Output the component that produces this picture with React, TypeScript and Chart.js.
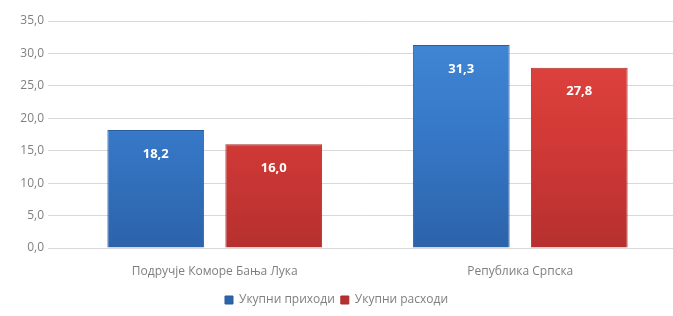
import React, { useEffect, useRef } from "react";
import { Chart, registerables } from "chart.js";

Chart.register(...registerables);

const categories = ["Подручје Коморе Бања Лука", "Република Српска"];
const seriesNames = ["Укупни приходи", "Укупни расходи"];
const incomeValues = [18.2, 31.3];
const expenseValues = [16.0, 27.8];
const yMin = 0;
const yMax = 35;
const yStep = 5;

const fmt = (v: number) => v.toFixed(1).replace(".", ",");

function makeGrad(chart: any, light: string, mid: string, dark: string, solid: string) {
  const area = chart.chartArea;
  if (!area) return solid;
  const g = chart.ctx.createLinearGradient(0, area.top, 0, area.bottom);
  g.addColorStop(0, light);
  g.addColorStop(0.5, mid);
  g.addColorStop(1, dark);
  return g;
}

const valueLabels = {
  id: "valueLabels",
  afterDatasetsDraw(chart: any) {
    const ctx = chart.ctx;
    ctx.save();
    ctx.fillStyle = "#ffffff";
    ctx.font = "bold 13px 'Open Sans', sans-serif";
    ctx.textAlign = "center";
    ctx.textBaseline = "middle";
    chart.data.datasets.forEach((ds: any, di: number) => {
      const meta = chart.getDatasetMeta(di);
      meta.data.forEach((bar: any, i: number) => {
        ctx.fillText(fmt(ds.data[i]), bar.x, bar.y + 24);
      });
    });
    ctx.restore();
  },
};

export default function App() {
  const ref = useRef<HTMLCanvasElement | null>(null);
  useEffect(() => {
    if (!ref.current) return;
    const chart = new Chart(ref.current, {
      type: "bar",
      data: {
        labels: categories,
        datasets: [
          {
            label: seriesNames[0],
            data: incomeValues,
            backgroundColor: (c: any) => makeGrad(c.chart, "#4189d8", "#3678c7", "#2c63aa", "#3678c7"),
            borderColor: "#2a5d9e",
            borderWidth: 1,
          },
          {
            label: seriesNames[1],
            data: expenseValues,
            backgroundColor: (c: any) => makeGrad(c.chart, "#e4453f", "#d23a37", "#b6302f", "#d23a37"),
            borderColor: "#a82c2b",
            borderWidth: 1,
          },
        ],
      },
      options: {
        animation: false,
        responsive: true,
        maintainAspectRatio: false,
        layout: { padding: { left: 0, right: 0, top: 21, bottom: 0 } },
        datasets: { bar: { categoryPercentage: 0.7725, barPercentage: 0.82 } },
        plugins: {
          legend: {
            position: "bottom",
            labels: {
              boxWidth: 8,
              boxHeight: 8,
              padding: 6,
              color: "#7f7f7f",
              font: { family: "'Open Sans', sans-serif", size: 12 },
            },
          },
          tooltip: { enabled: false },
        },
        scales: {
          x: {
            grid: { display: false, drawTicks: false },
            border: { display: false },
            ticks: {
              color: "#7f7f7f",
              padding: 16,
              font: { family: "'Open Sans', sans-serif", size: 12 },
            },
            afterFit: (s: any) => {
              s.height = 40;
            },
          },
          y: {
            min: yMin,
            max: yMax,
            grid: { color: "#d9d9d9", tickLength: 14, lineWidth: 1 },
            border: { display: false },
            ticks: {
              stepSize: yStep,
              padding: 4,
              color: "#7f7f7f",
              font: { family: "'Open Sans', sans-serif", size: 12 },
              callback: (v: any) => fmt(Number(v)),
            },
            afterFit: (s: any) => {
              s.width = 62;
            },
          },
        },
      },
      plugins: [valueLabels],
    } as any);
    return () => chart.destroy();
  }, []);
  return (
    <div style={{ position: "absolute", left: 0, top: 0, width: 673, height: 316, background: "#fff" }}>
      <canvas ref={ref} />
    </div>
  );
}
